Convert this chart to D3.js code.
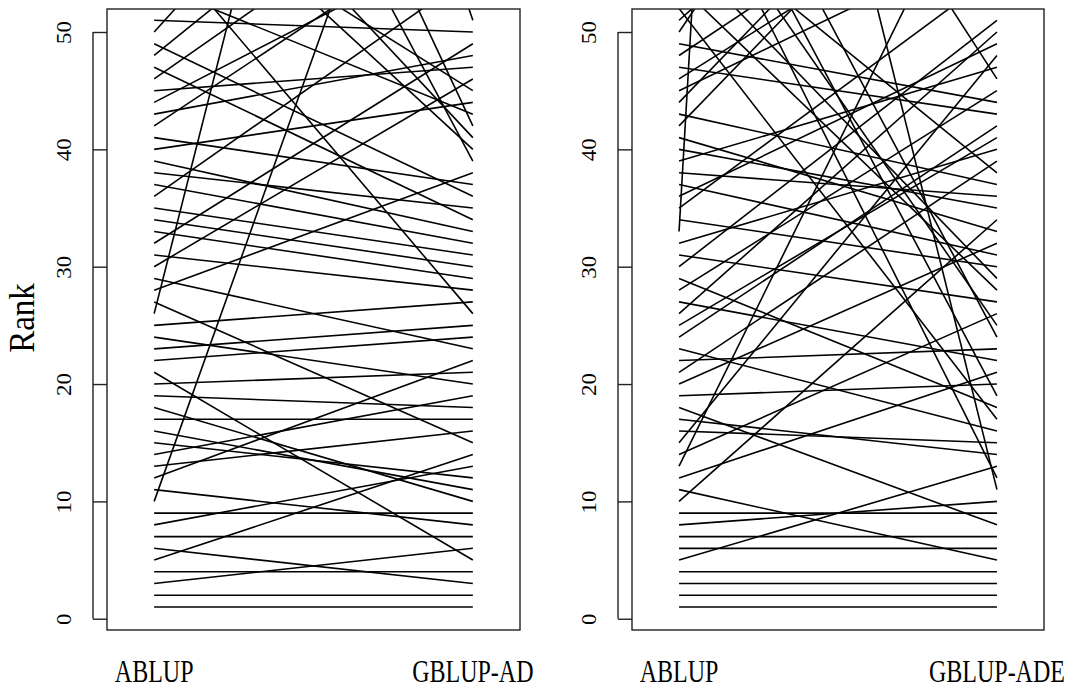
<!DOCTYPE html>
<html><head><meta charset="utf-8">
<script src="https://cdn.jsdelivr.net/npm/d3@7"></script>
<style>body{margin:0;background:#fff} text{font-family:"Liberation Serif","Times New Roman",serif;fill:#000}</style>
</head><body><svg id="c" width="1073" height="689"></svg>
<script>
const yTicks = [0,10,20,30,40,50];
const panelLabels = [["ABLUP","GBLUP-AD"],["ABLUP","GBLUP-ADE"]];
// ranks under ABLUP (left) and under GBLUP-AD (right), one entry per individual
const ablupAD = [1,2,3,4,5,6,7,8,9,10,11,12,13,14,15,16,17,18,19,20,21,22,23,24,25,26,27,28,29,30,31,32,33,34,35,36,37,38,39,40,41,42,43,44,45,46,47,48,49,50,51,58,90,65,70,100,54,62,131];
const gblupAD = [1,2,6,4,14,3,7,13,9,86,8,22,16,19,12,11,17,10,18,21,5,24,25,20,27,133,15,38,23,46,28,49,29,30,31,55,32,35,33,44,37,60,48,58,47,65,34,70,36,80,50,26,39,40,41,42,43,45,51];
// ranks under ABLUP (left) and under GBLUP-ADE (right)
const ablupADE = [1,2,3,4,5,6,7,8,9,10,11,12,13,14,15,16,17,18,19,20,21,22,23,24,25,26,27,28,29,30,31,32,33,34,35,36,37,38,39,40,41,42,43,44,45,46,47,48,49,50,51,88,60,57,54,64,70,75,52,120,66];
const gblupADE = [1,2,3,4,13,6,7,10,9,34,5,21,68,26,48,15,14,8,20,32,39,23,16,42,41,50,22,45,18,51,27,40,500,30,55,49,31,36,47,35,33,70,37,72,58,63,43,66,44,90,75,46,38,29,28,25,19,24,17,11,12];

const svg = d3.select("#c");
const y = d3.scaleLinear().domain([-0.96, 51.96]).range([630, 9]);
const panels = [
  {left:107, right:520, a:ablupAD, b:gblupAD, labels:panelLabels[0]},
  {left:632, right:1044, a:ablupADE, b:gblupADE, labels:panelLabels[1]}
];
panels.forEach((p,i)=>{
  const x = d3.scaleLinear().domain([0.852,2.148]).range([p.left,p.right]);
  const clipId = "clip"+i;
  svg.append("clipPath").attr("id",clipId).append("rect")
    .attr("x",p.left).attr("y",9).attr("width",p.right-p.left).attr("height",621);
  const g = svg.append("g").attr("clip-path",`url(#${clipId})`);
  const data = p.a.map((v,k)=>[v,p.b[k]]);
  g.selectAll("line").data(data).join("line")
    .attr("x1",x(1)).attr("x2",x(2))
    .attr("y1",d=>y(d[0])).attr("y2",d=>y(d[1]))
    .attr("stroke","#000").attr("stroke-width",1.6);
  svg.append("rect").attr("x",p.left).attr("y",9).attr("width",p.right-p.left).attr("height",621)
    .attr("fill","none").attr("stroke","#222").attr("stroke-width",1.4);
  const ax = svg.append("g").attr("transform",`translate(${p.left},0)`)
    .call(d3.axisLeft(y).tickValues(yTicks).tickSize(14).tickFormat(d3.format("d")));
  ax.select(".domain").attr("d",`M-14,${y(0)}V${y(50)}`).attr("stroke","#222").attr("stroke-width",1.4);
  ax.selectAll(".tick line").attr("stroke","#222").attr("stroke-width",1.4);
  ax.selectAll(".tick text").attr("transform","rotate(-90) scale(1.15,1.1)")
    .attr("x",0).attr("y",-33).attr("dy",0).attr("text-anchor","middle")
    .style("font-size","20px").style("font-family","'Liberation Serif',serif");
  p.labels.forEach((t,k)=>{
    svg.append("text").attr("transform",`translate(${x(k+1)},682) scale(1,1.3)`).attr("text-anchor","middle")
      .style("font-size","24px").text(t);
  });
});
svg.append("text").attr("transform","translate(34,318) rotate(-90) scale(1.1,1.2)").attr("text-anchor","middle")
  .style("font-size","30px").text("Rank");
</script></body></html>
